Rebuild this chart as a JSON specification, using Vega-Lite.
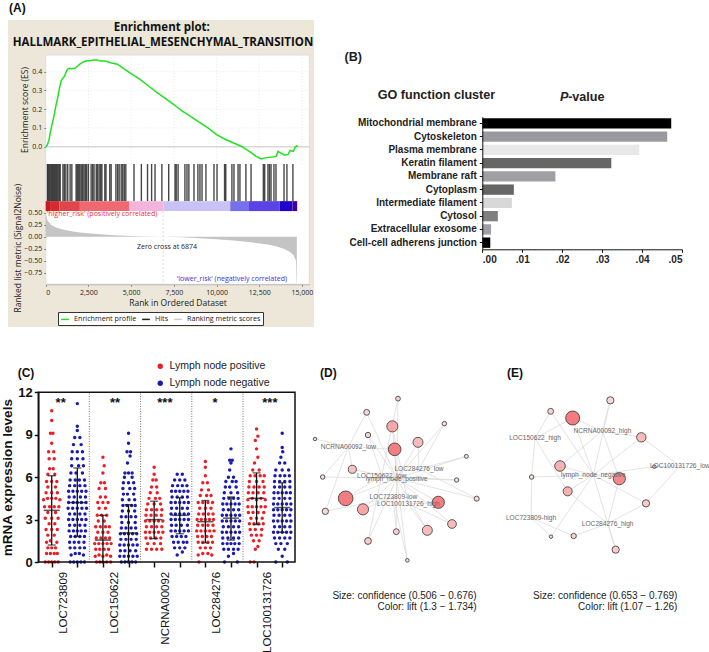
{"$schema":"https://vega.github.io/schema/vega-lite/v6.json","width":709,"height":652,"padding":0,"autosize":"none","background":"white",
"config":{"view":{"stroke":null},"axis":{"grid":false}},
"resolve":{"scale":{"x":"independent","y":"independent","color":"independent","size":"independent"},"axis":{"x":"independent","y":"independent"},"legend":{"color":"independent","size":"independent"}},
"layer":[
{"resolve":{"scale":{"color":"independent"},"legend":{"color":"independent"}},"layer":[
{"data":{"values":[{}]},"mark":{"type":"rect","fill":"#ece7d8"},"encoding":{"x":{"datum":-2206,"type":"quantitative","scale":{"domain":[0,15430],"range":[45.7,309.3],"nice":false},"axis":null},"x2":{"datum":15703},"y":{"datum":0.676,"type":"quantitative","scale":{"domain":[-0.092,0.489],"range":[164,55],"nice":false,"zero":false},"axis":{"zindex":1,"orient":"left","offset":-45.7,"values":[0,0.1,0.2,0.3,0.4],"format":".1f","title":"Enrichment score (ES)","titleFont":"Open Sans","titleFontWeight":"normal","titleFontSize":8.5,"titleColor":"#222","titlePadding":2,"labelFont":"Open Sans","labelFontSize":7,"labelColor":"#222","domain":false,"tickSize":2,"tickColor":"#888"}},"y2":{"datum":-0.961}}},
{"data":{"values":[{}]},"mark":{"type":"rect","fill":"white","stroke":"#ddd","strokeWidth":1},"encoding":{"x":{"datum":0,"type":"quantitative"},"x2":{"datum":15430},"y":{"datum":0.489,"type":"quantitative"},"y2":{"datum":-0.733}}},
{"data":{"values":[{"r":2500},{"r":5000},{"r":7500},{"r":10000},{"r":12500},{"r":15000}]},"mark":{"type":"rule","color":"#e4e4e4","strokeDash":[1,2],"strokeWidth":0.7},"encoding":{"x":{"field":"r","type":"quantitative"},"y":{"datum":0.489,"type":"quantitative"},"y2":{"datum":-0.092}}},
{"data":{"values":[{"e":0.1},{"e":0.2},{"e":0.3},{"e":0.4}]},"mark":{"type":"rule","color":"#e4e4e4","strokeDash":[1,2],"strokeWidth":0.7},"encoding":{"y":{"field":"e","type":"quantitative"},"x":{"datum":0,"type":"quantitative"},"x2":{"datum":15430}}},
{"data":{"values":[{"e":0}]},"mark":{"type":"rule","color":"#d8d8d8","strokeWidth":1.6},"encoding":{"y":{"field":"e","type":"quantitative"},"x":{"datum":0,"type":"quantitative"},"x2":{"datum":15430}}},
{"data":{"values":[{"r":100},{"r":160},{"r":230},{"r":300},{"r":360},{"r":420},{"r":480},{"r":540},{"r":600},{"r":660},{"r":720},{"r":790},{"r":850},{"r":1010},{"r":1090},{"r":1180},{"r":1290},{"r":1430},{"r":1530},{"r":1780},{"r":1850},{"r":1930},{"r":2000},{"r":2080},{"r":2160},{"r":2240},{"r":2320},{"r":2400},{"r":2500},{"r":2660},{"r":2750},{"r":2830},{"r":2960},{"r":3040},{"r":3130},{"r":3220},{"r":3290},{"r":3460},{"r":3530},{"r":3750},{"r":3830},{"r":4110},{"r":4210},{"r":4300},{"r":4420},{"r":4510},{"r":4600},{"r":4690},{"r":5170},{"r":5600},{"r":5960},{"r":6200},{"r":6400},{"r":6800},{"r":7200},{"r":7570},{"r":7640},{"r":7750},{"r":8150},{"r":8270},{"r":8380},{"r":8680},{"r":8910},{"r":9030},{"r":9150},{"r":9380},{"r":9850},{"r":10030},{"r":10470},{"r":10540},{"r":10900},{"r":11020},{"r":11260},{"r":11370},{"r":11720},{"r":12020},{"r":12740},{"r":12820},{"r":13010},{"r":13100},{"r":13190},{"r":13360},{"r":13480},{"r":13950},{"r":14120},{"r":14470}]},"mark":{"type":"rule","color":"#000","opacity":0.72,"strokeWidth":1.4},"encoding":{"x":{"field":"r","type":"quantitative"},"y":{"datum":-0.092,"type":"quantitative"},"y2":{"datum":-0.29}}},
{"data":{"values":[{"a":0,"b":300,"l":"a"},{"a":300,"b":800,"l":"b"},{"a":800,"b":2000,"l":"c"},{"a":2000,"b":4900,"l":"d"},{"a":4900,"b":6900,"l":"e"},{"a":6900,"b":10800,"l":"f"},{"a":10800,"b":11900,"l":"g"},{"a":11900,"b":13700,"l":"h"},{"a":13700,"b":14450,"l":"i"},{"a":14450,"b":14720,"l":"j"}]},"mark":{"type":"rect"},"encoding":{"x":{"field":"a","type":"quantitative"},"x2":{"field":"b"},"y":{"datum":-0.29,"type":"quantitative"},"y2":{"datum":-0.343},"color":{"field":"l","type":"nominal","legend":null,"scale":{"domain":["a","b","c","d","e","f","g","h","i","j"],"range":["#c81820","#d62a30","#e0454c","#ee6a70","#f5b4dc","#c8c2f6","#7670ea","#5a42e6","#2200cc","#40009c"]}}}},
{"data":{"values":[{"r":0,"e":0},{"r":100,"e":0.01},{"r":200,"e":0.04},{"r":300,"e":0.09},{"r":400,"e":0.13},{"r":500,"e":0.17},{"r":600,"e":0.22},{"r":700,"e":0.26},{"r":800,"e":0.31},{"r":900,"e":0.35},{"r":1000,"e":0.365},{"r":1100,"e":0.375},{"r":1200,"e":0.4},{"r":1300,"e":0.415},{"r":1400,"e":0.418},{"r":1500,"e":0.416},{"r":1700,"e":0.418},{"r":1800,"e":0.425},{"r":2000,"e":0.44},{"r":2200,"e":0.452},{"r":2400,"e":0.458},{"r":2600,"e":0.458},{"r":2800,"e":0.463},{"r":3000,"e":0.463},{"r":3200,"e":0.457},{"r":3500,"e":0.457},{"r":3800,"e":0.448},{"r":4200,"e":0.44},{"r":4500,"e":0.42},{"r":5000,"e":0.39},{"r":5500,"e":0.36},{"r":6000,"e":0.325},{"r":6500,"e":0.29},{"r":7000,"e":0.258},{"r":7500,"e":0.225},{"r":8000,"e":0.19},{"r":8500,"e":0.16},{"r":9000,"e":0.13},{"r":9500,"e":0.1},{"r":10000,"e":0.065},{"r":10500,"e":0.04},{"r":11000,"e":0.02},{"r":11500,"e":0},{"r":12000,"e":-0.03},{"r":12300,"e":-0.05},{"r":12600,"e":-0.065},{"r":12900,"e":-0.058},{"r":13300,"e":-0.055},{"r":13500,"e":-0.05},{"r":13600,"e":-0.025},{"r":13800,"e":-0.035},{"r":14000,"e":-0.045},{"r":14200,"e":-0.04},{"r":14300,"e":-0.02},{"r":14500,"e":-0.025},{"r":14600,"e":-0.003},{"r":14700,"e":0.005},{"r":14750,"e":0}]},"mark":{"type":"line","strokeWidth":1.5},"encoding":{"x":{"field":"r","type":"quantitative"},"y":{"field":"e","type":"quantitative"},"color":{"datum":"Enrichment profile","scale":{"domain":["Enrichment profile","Hits","Ranking metric scores"],"range":["#22e022","#222222","#cccccc"]},"legend":{"orient":"none","legendX":58,"legendY":312,"direction":"horizontal","columns":3,"title":null,"fillColor":"white","strokeColor":"#333","padding":2,"symbolType":"stroke","symbolSize":60,"symbolStrokeWidth":1.5,"labelFont":"Open Sans","labelFontSize":7.2,"labelColor":"#222","columnPadding":2}}}},
{"data":{"values":[{"t":"(A)","r":-2150,"e":0.74}]},"mark":{"type":"text","align":"left","font":"Liberation Sans","fontWeight":"bold","fontSize":12,"color":"#111"},"encoding":{"x":{"field":"r","type":"quantitative"},"y":{"field":"e","type":"quantitative"},"text":{"field":"t"}}},
{"data":{"values":[{"t":"Enrichment plot:","r":6800,"e":0.633},{"t":"HALLMARK_EPITHELIAL_MESENCHYMAL_TRANSITION","r":6865,"e":0.553}]},"mark":{"type":"text","font":"Open Sans","fontWeight":"bold","fontSize":11.5,"color":"#111"},"encoding":{"x":{"field":"r","type":"quantitative"},"y":{"field":"e","type":"quantitative"},"text":{"field":"t"}}}
]},
{"layer":[
{"data":{"values":[{"r":0,"m":0.5},{"r":50,"m":0.42},{"r":100,"m":0.34},{"r":300,"m":0.25},{"r":600,"m":0.19},{"r":1000,"m":0.15},{"r":1500,"m":0.115},{"r":2000,"m":0.09},{"r":3000,"m":0.055},{"r":4000,"m":0.03},{"r":5000,"m":0.015},{"r":6000,"m":0.005},{"r":6874,"m":0},{"r":8000,"m":-0.012},{"r":9000,"m":-0.03},{"r":10000,"m":-0.055},{"r":11000,"m":-0.08},{"r":12000,"m":-0.115},{"r":13000,"m":-0.16},{"r":13500,"m":-0.2},{"r":14000,"m":-0.26},{"r":14300,"m":-0.32},{"r":14500,"m":-0.38},{"r":14650,"m":-0.5},{"r":14680,"m":-0.95},{"r":14700,"m":-0.98}]},"mark":{"type":"area","color":"#c4c4c4"},"encoding":{"x":{"field":"r","type":"quantitative","scale":{"domain":[0,15430],"range":[45.7,309.3],"nice":false},"axis":{"zindex":1,"orient":"bottom","offset":-367.7,"values":[0,2500,5000,7500,10000,12500,15000],"format":",d","title":"Rank in Ordered Dataset","titleFont":"Open Sans","titleFontWeight":"normal","titleFontSize":8.5,"titleColor":"#222","titlePadding":3,"labelFont":"Open Sans","labelFontSize":7,"labelColor":"#222","tickSize":2,"tickColor":"#888","domainColor":"#bbb"}},"y":{"field":"m","type":"quantitative","scale":{"domain":[-0.99,0.535],"range":[284.3,211],"nice":false,"zero":false},"axis":{"zindex":1,"orient":"left","offset":-45.7,"values":[0.5,0.25,0,-0.25,-0.5,-0.75],"format":".2f","title":"Ranked list metric (Signal2Noise)","titleFont":"Open Sans","titleFontWeight":"normal","titleFontSize":8.5,"titleColor":"#222","titlePadding":1,"labelFont":"Open Sans","labelFontSize":7,"labelColor":"#222","domain":false,"tickSize":2,"tickColor":"#888"}},"y2":{"datum":0}}},
{"data":{"values":[{"r":6874}]},"mark":{"type":"rule","color":"#cfcfcf","strokeDash":[2,2],"strokeWidth":0.8},"encoding":{"x":{"field":"r","type":"quantitative"},"y":{"datum":0.53,"type":"quantitative"},"y2":{"datum":-0.98}}},
{"data":{"values":[{"t":"Zero cross at 6874","r":7100,"m":-0.22,"c":"k"},{"t":"'higher_risk' (positively correlated)","r":3300,"m":0.47,"c":"r"},{"t":"'lower_risk' (negatively correlated)","r":10900,"m":-0.88,"c":"b"}]},"mark":{"type":"text","font":"Open Sans","fontSize":7},"encoding":{"x":{"field":"r","type":"quantitative"},"y":{"field":"m","type":"quantitative"},"text":{"field":"t"},"color":{"field":"c","type":"nominal","legend":null,"scale":{"domain":["k","r","b"],"range":["#222222","#e8303a","#3a30d8"]}}}}
]},
{"data":{"values":[{"g":"Mitochondrial membrane","p":0.0473},{"g":"Cytoskeleton","p":0.0463},{"g":"Plasma membrane","p":0.0393},{"g":"Keratin filament","p":0.0323},{"g":"Membrane raft","p":0.0183},{"g":"Cytoplasm","p":0.0079},{"g":"Intermediate filament","p":0.0074},{"g":"Cytosol","p":0.0039},{"g":"Extracellular exosome","p":0.0022},{"g":"Cell-cell adherens junction","p":0.002}]},"mark":{"type":"bar"},"encoding":{"x":{"field":"p","type":"quantitative","scale":{"domain":[0,0.05],"range":[482.3,682],"nice":false},"axis":{"zindex":1,"orient":"bottom","offset":-402.7,"values":[0,0.01,0.02,0.03,0.04,0.05],"labelExpr":"slice(format(datum.value,'.2f'),1)","title":null,"labelFont":"Liberation Sans","labelFontWeight":"bold","labelFontSize":10,"labelColor":"#222","domainColor":"#111","tickColor":"#111","tickSize":3}},"y":{"field":"g","type":"nominal","sort":null,"scale":{"domain":["Mitochondrial membrane","Cytoskeleton","Plasma membrane","Keratin filament","Membrane raft","Cytoplasm","Intermediate filament","Cytosol","Extracellular exosome","Cell-cell adherens junction"],"range":[116.7,249.3],"paddingInner":0.22,"paddingOuter":0.11},"axis":{"zindex":1,"orient":"left","offset":-482.3,"title":null,"labelFont":"Liberation Sans","labelFontWeight":"bold","labelFontSize":10,"labelColor":"#222","domainColor":"#111","tickColor":"#111","tickSize":3,"labelPadding":3}},"color":{"field":"g","type":"nominal","legend":null,"scale":{"domain":["Mitochondrial membrane","Cytoskeleton","Plasma membrane","Keratin filament","Membrane raft","Cytoplasm","Intermediate filament","Cytosol","Extracellular exosome","Cell-cell adherens junction"],"range":["#000000","#9a9a9e","#e8e8e8","#666666","#a0a0a4","#666666","#d8d8d8","#808080","#a0a0a4","#000000"]}}}},
{"layer":[
{"data":{"values":[{"t":"(B)","p":-0.0345,"k":-4.5},{"t":"GO function cluster","p":-0.0262,"k":-1.66},{"t":"-value","p":0.0215,"k":-1.46}]},"mark":{"type":"text","align":"left","font":"Liberation Sans","fontWeight":"bold","fontSize":12.6,"color":"#222"},"encoding":{"x":{"field":"p","type":"quantitative","scale":{"domain":[0,0.05],"range":[482.3,682],"nice":false},"axis":null},"y":{"field":"k","type":"quantitative","scale":{"domain":[0,10],"range":[116.7,249.3],"nice":false,"zero":false},"axis":null},"text":{"field":"t"}}},
{"data":{"values":[{"t":"P","p":0.01945,"k":-1.46}]},"mark":{"type":"text","align":"left","font":"Liberation Sans","fontWeight":"bold","fontStyle":"italic","fontSize":12.6,"color":"#222"},"encoding":{"x":{"field":"p","type":"quantitative"},"y":{"field":"k","type":"quantitative"},"text":{"field":"t"}}}
]},
{"layer":[
{"data":{"values":[{"x":2.47},{"x":4.47},{"x":6.47},{"x":8.47}]},"mark":{"type":"rule","color":"#555","strokeDash":[1,1.5],"strokeWidth":0.8},"encoding":{"x":{"field":"x","type":"quantitative","scale":{"domain":[0.477,10.5],"range":[38.3,295],"nice":false,"zero":false},"axis":{"zindex":1,"orient":"bottom","offset":-90,"values":[1,2,3,4,5,6,7,8,9,10],"labels":false,"title":null,"tickColor":"#111","tickWidth":1.5,"tickSize":5,"domain":false}},"y":{"datum":0,"type":"quantitative","scale":{"domain":[0,12],"range":[562,392.3],"nice":false},"axis":{"zindex":1,"orient":"left","offset":-38.3,"values":[0,3,6,9,12],"format":"d","title":"mRNA expression levels","titleFont":"Liberation Sans","titleFontWeight":"bold","titleFontSize":13.5,"titleColor":"#111","titlePadding":3,"labelFont":"Liberation Sans","labelFontWeight":"bold","labelFontSize":13,"labelColor":"#111","tickColor":"#111","tickWidth":1.5,"tickSize":4,"domainColor":"#111","domainWidth":1.5}},"y2":{"datum":12}}},
{"data":{"values":[
{"x":0.75,"v":0},{"x":0.88,"v":0},{"x":1,"v":0},{"x":1.12,"v":0},{"x":1.25,"v":0},{"x":0.8,"v":0.6},{"x":0.95,"v":0.6},{"x":1.1,"v":0.6},{"x":1.22,"v":0.6},{"x":0.85,"v":1},{"x":1,"v":1},{"x":1.15,"v":1},{"x":0.8,"v":1.4},{"x":0.95,"v":1.5},{"x":1.2,"v":1.4},{"x":0.85,"v":1.9},{"x":1.1,"v":1.9},{"x":0.78,"v":2.3},{"x":1,"v":2.3},{"x":1.22,"v":2.3},{"x":0.9,"v":2.7},{"x":1.12,"v":2.7},{"x":0.75,"v":3.1},{"x":1,"v":3.1},{"x":1.25,"v":3.1},{"x":0.85,"v":3.5},{"x":1.15,"v":3.5},{"x":0.72,"v":3.9},{"x":0.92,"v":3.9},{"x":1.1,"v":3.9},{"x":1.28,"v":3.9},{"x":0.68,"v":4.4},{"x":0.84,"v":4.5},{"x":1,"v":4.5},{"x":1.16,"v":4.5},{"x":1.32,"v":4.4},{"x":0.78,"v":4.9},{"x":1,"v":4.9},{"x":1.22,"v":4.9},{"x":0.85,"v":5.3},{"x":1.15,"v":5.3},{"x":0.8,"v":5.7},{"x":1,"v":5.7},{"x":1.2,"v":5.7},{"x":0.85,"v":6.2},{"x":1.12,"v":6.2},{"x":0.92,"v":6.6},{"x":1.06,"v":6.6},{"x":0.9,"v":7.3},{"x":1.1,"v":7.3},{"x":0.88,"v":7.8},{"x":1.08,"v":7.8},{"x":1,"v":8.4},{"x":0.95,"v":9.1},{"x":1.05,"v":9.1},{"x":1,"v":10},{"x":1,"v":10.7},
{"x":2.75,"v":0},{"x":2.88,"v":0},{"x":3,"v":0},{"x":3.15,"v":0},{"x":3.3,"v":0},{"x":2.7,"v":0.4},{"x":2.85,"v":0.5},{"x":3,"v":0.4},{"x":3.15,"v":0.5},{"x":3.3,"v":0.4},{"x":2.72,"v":0.9},{"x":2.88,"v":0.9},{"x":3.05,"v":0.9},{"x":3.22,"v":0.9},{"x":2.68,"v":1.3},{"x":2.84,"v":1.3},{"x":3,"v":1.3},{"x":3.16,"v":1.3},{"x":3.32,"v":1.3},{"x":2.74,"v":1.7},{"x":2.92,"v":1.7},{"x":3.1,"v":1.7},{"x":3.26,"v":1.7},{"x":2.8,"v":2.1},{"x":3,"v":2.1},{"x":3.2,"v":2.1},{"x":2.72,"v":2.5},{"x":2.9,"v":2.5},{"x":3.1,"v":2.5},{"x":3.25,"v":2.5},{"x":2.82,"v":2.9},{"x":3.05,"v":2.9},{"x":2.78,"v":3.3},{"x":2.95,"v":3.3},{"x":3.15,"v":3.3},{"x":2.85,"v":3.8},{"x":3.1,"v":3.8},{"x":2.8,"v":4.2},{"x":3,"v":4.2},{"x":3.2,"v":4.2},{"x":2.9,"v":4.6},{"x":3.1,"v":4.6},{"x":2.85,"v":5.2},{"x":3.1,"v":5.2},{"x":2.92,"v":5.6},{"x":3.06,"v":5.6},{"x":3,"v":6.3},{"x":3.05,"v":6.8},{"x":3,"v":7.4},
{"x":4.7,"v":0.9},{"x":4.9,"v":0.9},{"x":5.1,"v":0.9},{"x":5.3,"v":0.9},{"x":4.75,"v":1.3},{"x":5,"v":1.3},{"x":5.25,"v":1.3},{"x":4.68,"v":1.7},{"x":4.86,"v":1.7},{"x":5.06,"v":1.7},{"x":5.26,"v":1.7},{"x":4.66,"v":2.1},{"x":4.83,"v":2.1},{"x":5,"v":2.1},{"x":5.17,"v":2.1},{"x":5.34,"v":2.1},{"x":4.7,"v":2.5},{"x":4.9,"v":2.5},{"x":5.1,"v":2.5},{"x":5.3,"v":2.5},{"x":4.66,"v":2.9},{"x":4.83,"v":2.9},{"x":5,"v":2.9},{"x":5.17,"v":2.9},{"x":5.34,"v":2.9},{"x":4.68,"v":3.3},{"x":4.88,"v":3.3},{"x":5.08,"v":3.3},{"x":5.28,"v":3.3},{"x":4.7,"v":3.7},{"x":4.9,"v":3.7},{"x":5.1,"v":3.7},{"x":5.3,"v":3.7},{"x":4.75,"v":4.1},{"x":5,"v":4.1},{"x":5.25,"v":4.1},{"x":4.8,"v":4.5},{"x":5.05,"v":4.5},{"x":5.22,"v":4.5},{"x":4.85,"v":4.9},{"x":5.12,"v":4.9},{"x":4.9,"v":5.3},{"x":5.1,"v":5.3},{"x":4.95,"v":5.8},{"x":5.08,"v":5.8},{"x":5,"v":6.2},{"x":5,"v":6.7},
{"x":6.75,"v":0},{"x":6.72,"v":0.5},{"x":6.9,"v":0.6},{"x":7.1,"v":0.6},{"x":7.25,"v":0.5},{"x":6.8,"v":1},{"x":7,"v":1},{"x":7.2,"v":1},{"x":6.72,"v":1.4},{"x":6.9,"v":1.4},{"x":7.1,"v":1.4},{"x":7.28,"v":1.4},{"x":6.7,"v":1.8},{"x":6.88,"v":1.8},{"x":7.06,"v":1.8},{"x":7.24,"v":1.8},{"x":6.66,"v":2.2},{"x":6.83,"v":2.2},{"x":7,"v":2.2},{"x":7.17,"v":2.2},{"x":7.34,"v":2.2},{"x":6.7,"v":2.6},{"x":6.9,"v":2.6},{"x":7.1,"v":2.6},{"x":7.3,"v":2.6},{"x":6.68,"v":3},{"x":6.84,"v":3},{"x":7,"v":3},{"x":7.16,"v":3},{"x":7.32,"v":3},{"x":6.74,"v":3.4},{"x":6.92,"v":3.4},{"x":7.12,"v":3.4},{"x":7.3,"v":3.4},{"x":6.78,"v":3.8},{"x":7,"v":3.8},{"x":7.22,"v":3.8},{"x":6.72,"v":4.2},{"x":6.9,"v":4.2},{"x":7.1,"v":4.2},{"x":7.28,"v":4.2},{"x":6.8,"v":4.7},{"x":7.05,"v":4.7},{"x":7.22,"v":4.7},{"x":6.85,"v":5.1},{"x":7.12,"v":5.1},{"x":6.9,"v":5.6},{"x":7.08,"v":5.6},{"x":7,"v":6.1},{"x":7,"v":6.7},{"x":7,"v":7.1},
{"x":8.75,"v":0},{"x":8.9,"v":0},{"x":8.95,"v":0.9},{"x":9.05,"v":1.1},{"x":8.88,"v":1.5},{"x":9.1,"v":1.5},{"x":8.8,"v":1.9},{"x":9,"v":1.9},{"x":9.18,"v":1.9},{"x":8.75,"v":2.3},{"x":8.95,"v":2.3},{"x":9.2,"v":2.3},{"x":8.72,"v":2.7},{"x":8.9,"v":2.7},{"x":9.08,"v":2.7},{"x":9.26,"v":2.7},{"x":8.78,"v":3.1},{"x":9,"v":3.1},{"x":9.22,"v":3.1},{"x":8.68,"v":3.5},{"x":8.86,"v":3.5},{"x":9.06,"v":3.5},{"x":9.28,"v":3.5},{"x":8.66,"v":3.9},{"x":8.83,"v":3.9},{"x":9,"v":3.9},{"x":9.17,"v":3.9},{"x":9.34,"v":3.9},{"x":8.66,"v":4.4},{"x":8.83,"v":4.5},{"x":9,"v":4.4},{"x":9.17,"v":4.5},{"x":9.34,"v":4.4},{"x":8.68,"v":4.9},{"x":8.86,"v":4.9},{"x":9.06,"v":4.9},{"x":9.28,"v":4.9},{"x":8.7,"v":5.3},{"x":8.9,"v":5.3},{"x":9.1,"v":5.3},{"x":9.3,"v":5.3},{"x":8.72,"v":5.7},{"x":9,"v":5.7},{"x":9.25,"v":5.7},{"x":8.75,"v":6.1},{"x":8.94,"v":6.1},{"x":9.14,"v":6.1},{"x":9.3,"v":6.1},{"x":8.85,"v":6.5},{"x":9.1,"v":6.5},{"x":8.92,"v":7},{"x":9.05,"v":7.4},{"x":9,"v":8},{"x":8.95,"v":8.6},{"x":9.05,"v":8.9},{"x":9,"v":9.4}
]},"mark":{"type":"circle","size":12,"opacity":1},"encoding":{"x":{"field":"x","type":"quantitative"},"y":{"field":"v","type":"quantitative"},"color":{"datum":"Lymph node positive","scale":{"domain":["Lymph node positive","Lymph node negative"],"range":["#ee1c25","#1a1ab0"]},"legend":{"orient":"none","legendX":155,"legendY":361,"title":null,"labelFont":"Liberation Sans","labelFontSize":10.5,"labelColor":"#222","symbolSize":28,"symbolType":"circle","rowPadding":6}}}},
{"data":{"values":[
{"x":1.72,"v":0},{"x":1.86,"v":0},{"x":2,"v":0},{"x":2.14,"v":0},{"x":2.28,"v":0},{"x":1.76,"v":0.5},{"x":1.92,"v":0.6},{"x":2.08,"v":0.6},{"x":2.24,"v":0.5},{"x":1.72,"v":1},{"x":1.9,"v":1},{"x":2.1,"v":1},{"x":2.28,"v":1},{"x":1.7,"v":1.4},{"x":1.88,"v":1.4},{"x":2.06,"v":1.4},{"x":2.26,"v":1.4},{"x":1.74,"v":1.8},{"x":1.92,"v":1.8},{"x":2.1,"v":1.8},{"x":2.28,"v":1.8},{"x":1.68,"v":2.2},{"x":1.85,"v":2.2},{"x":2,"v":2.2},{"x":2.15,"v":2.2},{"x":2.32,"v":2.2},{"x":1.7,"v":2.6},{"x":1.9,"v":2.6},{"x":2.1,"v":2.6},{"x":2.3,"v":2.6},{"x":1.66,"v":3},{"x":1.83,"v":3},{"x":2,"v":3},{"x":2.17,"v":3},{"x":2.34,"v":3},{"x":1.7,"v":3.4},{"x":1.9,"v":3.4},{"x":2.1,"v":3.4},{"x":2.3,"v":3.4},{"x":1.64,"v":3.8},{"x":1.82,"v":3.8},{"x":2,"v":3.8},{"x":2.18,"v":3.8},{"x":2.36,"v":3.8},{"x":1.66,"v":4.2},{"x":1.84,"v":4.2},{"x":2,"v":4.2},{"x":2.16,"v":4.2},{"x":2.34,"v":4.2},{"x":1.68,"v":4.6},{"x":1.88,"v":4.6},{"x":2.12,"v":4.6},{"x":2.32,"v":4.6},{"x":1.66,"v":5},{"x":1.83,"v":5},{"x":2,"v":5},{"x":2.17,"v":5},{"x":2.34,"v":5},{"x":1.7,"v":5.4},{"x":1.9,"v":5.4},{"x":2.1,"v":5.4},{"x":2.3,"v":5.4},{"x":1.72,"v":5.8},{"x":1.92,"v":5.8},{"x":2.08,"v":5.8},{"x":2.28,"v":5.8},{"x":1.75,"v":6.3},{"x":1.95,"v":6.3},{"x":2.2,"v":6.3},{"x":1.78,"v":6.8},{"x":2.05,"v":6.8},{"x":2.24,"v":6.8},{"x":1.78,"v":7.3},{"x":2,"v":7.3},{"x":2.22,"v":7.3},{"x":1.8,"v":7.8},{"x":2,"v":7.8},{"x":2.2,"v":7.8},{"x":1.85,"v":8.3},{"x":2.15,"v":8.3},{"x":1.9,"v":8.8},{"x":2.1,"v":8.8},{"x":2,"v":9.3},{"x":2,"v":9.6},{"x":2,"v":11.2},
{"x":3.72,"v":0},{"x":3.86,"v":0},{"x":4,"v":0},{"x":4.14,"v":0},{"x":4.28,"v":0},{"x":3.66,"v":0.4},{"x":3.83,"v":0.4},{"x":4,"v":0.4},{"x":4.17,"v":0.4},{"x":4.34,"v":0.4},{"x":3.68,"v":0.8},{"x":3.86,"v":0.8},{"x":4.06,"v":0.8},{"x":4.28,"v":0.8},{"x":3.66,"v":1.2},{"x":3.83,"v":1.2},{"x":4,"v":1.2},{"x":4.17,"v":1.2},{"x":4.34,"v":1.2},{"x":3.7,"v":1.6},{"x":3.9,"v":1.6},{"x":4.1,"v":1.6},{"x":4.3,"v":1.6},{"x":3.68,"v":2},{"x":3.84,"v":2},{"x":4,"v":2},{"x":4.16,"v":2},{"x":4.32,"v":2},{"x":3.72,"v":2.4},{"x":3.9,"v":2.4},{"x":4.1,"v":2.4},{"x":4.28,"v":2.4},{"x":3.74,"v":2.8},{"x":4,"v":2.8},{"x":4.26,"v":2.8},{"x":3.72,"v":3.2},{"x":3.9,"v":3.2},{"x":4.1,"v":3.2},{"x":4.28,"v":3.2},{"x":3.76,"v":3.6},{"x":4,"v":3.6},{"x":4.24,"v":3.6},{"x":3.78,"v":4},{"x":3.94,"v":4},{"x":4.12,"v":4},{"x":4.26,"v":4},{"x":3.76,"v":4.4},{"x":4.02,"v":4.4},{"x":4.24,"v":4.4},{"x":3.8,"v":4.8},{"x":3.96,"v":4.8},{"x":4.2,"v":4.8},{"x":3.78,"v":5.2},{"x":4.05,"v":5.2},{"x":4.24,"v":5.2},{"x":3.8,"v":5.6},{"x":4,"v":5.6},{"x":4.2,"v":5.6},{"x":3.84,"v":6},{"x":4.14,"v":6},{"x":3.86,"v":6.3},{"x":4,"v":6.3},{"x":4.14,"v":6.3},{"x":3.96,"v":7},{"x":4.06,"v":7.5},{"x":3.94,"v":7.8},{"x":4.08,"v":7.8},{"x":4,"v":8.4},{"x":4,"v":9.1},
{"x":5.9,"v":0.5},{"x":6.1,"v":0.7},{"x":5.8,"v":1},{"x":6,"v":1},{"x":6.2,"v":1},{"x":5.76,"v":1.4},{"x":5.94,"v":1.4},{"x":6.14,"v":1.4},{"x":6.28,"v":1.4},{"x":5.7,"v":1.8},{"x":5.88,"v":1.8},{"x":6.06,"v":1.8},{"x":6.24,"v":1.8},{"x":5.66,"v":2.2},{"x":5.83,"v":2.2},{"x":6,"v":2.2},{"x":6.17,"v":2.2},{"x":6.34,"v":2.2},{"x":5.68,"v":2.6},{"x":5.86,"v":2.6},{"x":6.06,"v":2.6},{"x":6.3,"v":2.6},{"x":5.66,"v":3},{"x":5.83,"v":3},{"x":6,"v":3},{"x":6.17,"v":3},{"x":6.34,"v":3},{"x":5.66,"v":3.4},{"x":5.83,"v":3.4},{"x":6,"v":3.4},{"x":6.17,"v":3.4},{"x":6.34,"v":3.4},{"x":5.68,"v":3.8},{"x":5.88,"v":3.8},{"x":6.1,"v":3.8},{"x":6.3,"v":3.8},{"x":5.66,"v":4.2},{"x":5.83,"v":4.2},{"x":6,"v":4.2},{"x":6.17,"v":4.2},{"x":6.34,"v":4.2},{"x":5.7,"v":4.6},{"x":5.9,"v":4.6},{"x":6.1,"v":4.6},{"x":6.3,"v":4.6},{"x":5.68,"v":5},{"x":5.84,"v":5},{"x":6,"v":5},{"x":6.16,"v":5},{"x":6.32,"v":5},{"x":5.72,"v":5.4},{"x":5.92,"v":5.4},{"x":6.1,"v":5.4},{"x":6.28,"v":5.4},{"x":5.8,"v":5.8},{"x":6,"v":5.8},{"x":6.2,"v":5.8},{"x":5.9,"v":6.2},{"x":6.1,"v":6.2},
{"x":7.9,"v":0.4},{"x":8.1,"v":0.6},{"x":7.75,"v":0},{"x":8.25,"v":0},{"x":7.72,"v":0.9},{"x":7.9,"v":0.9},{"x":8.1,"v":0.9},{"x":8.28,"v":0.9},{"x":7.68,"v":1.3},{"x":7.85,"v":1.3},{"x":8,"v":1.3},{"x":8.15,"v":1.3},{"x":8.32,"v":1.3},{"x":7.68,"v":1.7},{"x":7.88,"v":1.7},{"x":8.1,"v":1.7},{"x":8.3,"v":1.7},{"x":7.66,"v":2.1},{"x":7.83,"v":2.1},{"x":8,"v":2.1},{"x":8.17,"v":2.1},{"x":8.34,"v":2.1},{"x":7.7,"v":2.5},{"x":7.9,"v":2.5},{"x":8.1,"v":2.5},{"x":8.3,"v":2.5},{"x":7.66,"v":2.9},{"x":7.83,"v":2.9},{"x":8,"v":2.9},{"x":8.17,"v":2.9},{"x":8.34,"v":2.9},{"x":7.66,"v":3.3},{"x":7.83,"v":3.3},{"x":8,"v":3.3},{"x":8.17,"v":3.3},{"x":8.34,"v":3.3},{"x":7.7,"v":3.7},{"x":7.9,"v":3.7},{"x":8.1,"v":3.7},{"x":8.3,"v":3.7},{"x":7.68,"v":4.1},{"x":7.84,"v":4.1},{"x":8,"v":4.1},{"x":8.16,"v":4.1},{"x":8.32,"v":4.1},{"x":7.72,"v":4.5},{"x":7.92,"v":4.5},{"x":8.1,"v":4.5},{"x":8.28,"v":4.5},{"x":7.74,"v":4.9},{"x":8,"v":4.9},{"x":8.26,"v":4.9},{"x":7.78,"v":5.3},{"x":7.95,"v":5.3},{"x":8.2,"v":5.3},{"x":7.8,"v":5.7},{"x":8.05,"v":5.7},{"x":8.2,"v":5.7},{"x":7.9,"v":6},{"x":8.1,"v":6},{"x":7.95,"v":6.5},{"x":8,"v":7},{"x":7.95,"v":7.2},{"x":8.05,"v":7.2},{"x":8,"v":8},
{"x":9.75,"v":0},{"x":10.2,"v":0},{"x":10,"v":0.4},{"x":9.85,"v":0.9},{"x":10.1,"v":0.9},{"x":9.75,"v":1.3},{"x":9.95,"v":1.3},{"x":10.2,"v":1.3},{"x":9.7,"v":1.7},{"x":9.9,"v":1.7},{"x":10.1,"v":1.7},{"x":10.3,"v":1.7},{"x":9.66,"v":2.1},{"x":9.83,"v":2.1},{"x":10,"v":2.1},{"x":10.17,"v":2.1},{"x":10.34,"v":2.1},{"x":9.7,"v":2.5},{"x":9.9,"v":2.5},{"x":10.1,"v":2.5},{"x":10.3,"v":2.5},{"x":9.66,"v":2.9},{"x":9.83,"v":2.9},{"x":10,"v":2.9},{"x":10.17,"v":2.9},{"x":10.34,"v":2.9},{"x":9.68,"v":3.3},{"x":9.88,"v":3.3},{"x":10.1,"v":3.3},{"x":10.3,"v":3.3},{"x":9.66,"v":3.7},{"x":9.83,"v":3.7},{"x":10,"v":3.7},{"x":10.17,"v":3.7},{"x":10.34,"v":3.7},{"x":9.66,"v":4.1},{"x":9.83,"v":4.1},{"x":10,"v":4.1},{"x":10.17,"v":4.1},{"x":10.34,"v":4.1},{"x":9.68,"v":4.5},{"x":9.88,"v":4.5},{"x":10.1,"v":4.5},{"x":10.3,"v":4.5},{"x":9.68,"v":4.9},{"x":9.84,"v":4.9},{"x":10,"v":4.9},{"x":10.16,"v":4.9},{"x":10.32,"v":4.9},{"x":9.7,"v":5.3},{"x":9.9,"v":5.3},{"x":10.1,"v":5.3},{"x":10.3,"v":5.3},{"x":9.7,"v":5.7},{"x":9.9,"v":5.7},{"x":10.1,"v":5.7},{"x":10.3,"v":5.7},{"x":9.72,"v":6.1},{"x":9.92,"v":6.1},{"x":10.1,"v":6.1},{"x":10.28,"v":6.1},{"x":9.75,"v":6.5},{"x":10,"v":6.5},{"x":10.25,"v":6.5},{"x":9.9,"v":7},{"x":10.1,"v":7},{"x":9.95,"v":7.4},{"x":10.02,"v":7.8},{"x":10,"v":8.1},{"x":10,"v":9.1}
]},"mark":{"type":"circle","size":12,"opacity":1},"encoding":{"x":{"field":"x","type":"quantitative"},"y":{"field":"v","type":"quantitative"},"color":{"datum":"Lymph node negative"}}},
{"data":{"name":"stats","values":[{"x":1,"m":3.65,"h":6.1,"l":1.2},{"x":2,"m":4.2,"h":6.65,"l":1.8},{"x":3,"m":1.55,"h":3.3,"l":0},{"x":4,"m":2.05,"h":4.05,"l":0.05},{"x":5,"m":3,"h":4.3,"l":1.65},{"x":6,"m":3.3,"h":4.55,"l":2},{"x":7,"m":2.85,"h":4.35,"l":1.35},{"x":8,"m":3.1,"h":4.6,"l":1.55},{"x":9,"m":4.5,"h":6.3,"l":2.65},{"x":10,"m":3.85,"h":5.6,"l":2.1}]},"mark":{"type":"rule","color":"#111","strokeWidth":1.3},"encoding":{"x":{"field":"x","type":"quantitative"},"y":{"field":"l","type":"quantitative"},"y2":{"field":"h"}}},
{"data":{"name":"stats"},"mark":{"type":"tick","orient":"horizontal","color":"#111","size":16,"thickness":1.5},"encoding":{"x":{"field":"x","type":"quantitative"},"y":{"field":"m","type":"quantitative"}}},
{"data":{"name":"stats"},"mark":{"type":"tick","orient":"horizontal","color":"#111","size":8,"thickness":1.3},"encoding":{"x":{"field":"x","type":"quantitative"},"y":{"field":"h","type":"quantitative"}}},
{"data":{"name":"stats"},"mark":{"type":"tick","orient":"horizontal","color":"#111","size":8,"thickness":1.3},"encoding":{"x":{"field":"x","type":"quantitative"},"y":{"field":"l","type":"quantitative"}}},
{"data":{"values":[{}]},"mark":{"type":"rect","fill":"transparent","stroke":"#111","strokeWidth":1.5},"encoding":{"x":{"datum":0.477,"type":"quantitative"},"x2":{"datum":10.5},"y":{"datum":0,"type":"quantitative"},"y2":{"datum":12}}},
{"data":{"values":[{"t":"**","x":1.35,"v":11.25},{"t":"**","x":3.47,"v":11.25},{"t":"***","x":5.42,"v":11.25},{"t":"*","x":7.38,"v":11.25},{"t":"***","x":9.52,"v":11.25}]},"mark":{"type":"text","font":"Liberation Sans","fontWeight":"bold","fontSize":13,"color":"#111"},"encoding":{"x":{"field":"x","type":"quantitative"},"y":{"field":"v","type":"quantitative"},"text":{"field":"t"}}},
{"data":{"values":[{"t":"LOC723809","x":1.47,"v":-0.69},{"t":"LOC150622","x":3.47,"v":-0.69},{"t":"NCRNA00092","x":5.45,"v":-0.69},{"t":"LOC284276","x":7.47,"v":-0.69},{"t":"LOC100131726","x":9.43,"v":-0.69}]},"mark":{"type":"text","angle":270,"align":"right","baseline":"middle","font":"Liberation Sans","fontSize":11.5,"color":"#111"},"encoding":{"x":{"field":"x","type":"quantitative"},"y":{"field":"v","type":"quantitative"},"text":{"field":"t"}}},
{"data":{"values":[{"t":"(C)","x":-0.33,"v":13.4}]},"mark":{"type":"text","align":"left","font":"Liberation Sans","fontWeight":"bold","fontSize":12,"color":"#111"},"encoding":{"x":{"field":"x","type":"quantitative"},"y":{"field":"v","type":"quantitative"},"text":{"field":"t"}}}
]},
{"layer":[
{"data":{"values":[{"x":290,"y":385,"a":294,"b":146},{"x":290,"y":385,"a":200,"b":187},{"x":290,"y":385,"a":433,"b":221},{"x":290,"y":385,"a":277,"b":229},{"x":290,"y":385,"a":204,"b":255},{"x":290,"y":385,"a":354,"b":277},{"x":290,"y":385,"a":284,"b":298},{"x":290,"y":385,"a":499,"b":319},{"x":290,"y":385,"a":157,"b":358},{"x":290,"y":385,"a":68,"b":381},{"x":290,"y":385,"a":470,"b":390},{"x":290,"y":385,"a":137,"b":445},{"x":290,"y":385,"a":415,"b":457},{"x":290,"y":385,"a":530,"b":446},{"x":290,"y":385,"a":189,"b":478},{"x":290,"y":385,"a":456,"b":522},{"x":290,"y":385,"a":382,"b":541},{"x":290,"y":385,"a":289,"b":545},{"x":290,"y":385,"a":204,"b":573},{"x":290,"y":385,"a":322,"b":631},{"x":145,"y":290,"a":200,"b":187},{"x":145,"y":290,"a":45,"b":267},{"x":145,"y":290,"a":68,"b":381},{"x":145,"y":290,"a":76,"b":484},{"x":145,"y":290,"a":157,"b":358},{"x":145,"y":290,"a":284,"b":298},{"x":245,"y":377,"a":294,"b":146},{"x":245,"y":377,"a":204,"b":255},{"x":245,"y":377,"a":137,"b":445},{"x":245,"y":377,"a":204,"b":573},{"x":245,"y":377,"a":470,"b":390},{"x":357,"y":357,"a":433,"b":221},{"x":357,"y":357,"a":354,"b":277},{"x":357,"y":357,"a":499,"b":319},{"x":357,"y":357,"a":530,"b":446},{"x":280,"y":442,"a":76,"b":484},{"x":280,"y":442,"a":289,"b":545},{"x":280,"y":442,"a":322,"b":631},{"x":280,"y":442,"a":189,"b":478},{"x":325,"y":462,"a":456,"b":522},{"x":325,"y":462,"a":382,"b":541},{"x":325,"y":462,"a":415,"b":457},{"x":325,"y":462,"a":277,"b":229},{"x":880,"y":375,"a":931,"b":151},{"x":880,"y":375,"a":752,"b":184},{"x":880,"y":375,"a":818,"b":204},{"x":880,"y":375,"a":1024,"b":262},{"x":880,"y":375,"a":780,"b":348},{"x":880,"y":375,"a":695,"b":381},{"x":880,"y":375,"a":1063,"b":350},{"x":880,"y":375,"a":958,"b":386},{"x":880,"y":375,"a":803,"b":424},{"x":880,"y":375,"a":1038,"b":460},{"x":880,"y":375,"a":753,"b":560},{"x":880,"y":375,"a":947,"b":599},{"x":705,"y":265,"a":752,"b":184},{"x":705,"y":265,"a":818,"b":204},{"x":705,"y":265,"a":695,"b":381},{"x":705,"y":265,"a":803,"b":424},{"x":907,"y":243,"a":931,"b":151},{"x":907,"y":243,"a":818,"b":204},{"x":907,"y":243,"a":1024,"b":262},{"x":907,"y":243,"a":958,"b":386},{"x":907,"y":243,"a":780,"b":348},{"x":1140,"y":348,"a":1024,"b":262},{"x":1140,"y":348,"a":1063,"b":350},{"x":1140,"y":348,"a":1038,"b":460},{"x":693,"y":503,"a":695,"b":381},{"x":693,"y":503,"a":753,"b":560},{"x":693,"y":503,"a":821,"b":558},{"x":923,"y":521,"a":821,"b":558},{"x":923,"y":521,"a":803,"b":424},{"x":923,"y":521,"a":958,"b":386},{"x":923,"y":521,"a":947,"b":599},{"x":923,"y":521,"a":1038,"b":460}]},"mark":{"type":"rule","color":"#dcdcdc","strokeWidth":0.8},"encoding":{"x":{"field":"x","type":"quantitative","scale":{"domain":[0,1227],"range":[300,709],"nice":false},"axis":null},"y":{"field":"y","type":"quantitative","scale":{"domain":[0,840],"range":[350,630],"nice":false},"axis":null},"x2":{"field":"a"},"y2":{"field":"b"}}},
{"data":{"values":[{"x":294,"y":146,"c":0.515,"l":1.33},{"x":200,"y":187,"c":0.525,"l":1.33},{"x":433,"y":221,"c":0.513,"l":1.32},{"x":277,"y":229,"c":0.6,"l":1.55},{"x":204,"y":255,"c":0.52,"l":1.33},{"x":45,"y":267,"c":0.506,"l":1.3},{"x":354,"y":277,"c":0.58,"l":1.45},{"x":284,"y":298,"c":0.63,"l":1.72},{"x":499,"y":319,"c":0.509,"l":1.3},{"x":157,"y":358,"c":0.55,"l":1.42},{"x":68,"y":381,"c":0.513,"l":1.3},{"x":470,"y":390,"c":0.512,"l":1.3},{"x":137,"y":445,"c":0.676,"l":1.734},{"x":415,"y":457,"c":0.62,"l":1.72},{"x":530,"y":446,"c":0.518,"l":1.33},{"x":189,"y":478,"c":0.6,"l":1.55},{"x":76,"y":484,"c":0.53,"l":1.33},{"x":456,"y":522,"c":0.56,"l":1.45},{"x":382,"y":541,"c":0.58,"l":1.45},{"x":289,"y":545,"c":0.525,"l":1.35},{"x":204,"y":573,"c":0.535,"l":1.38},{"x":322,"y":631,"c":0.507,"l":1.3},{"x":931,"y":151,"c":0.54,"l":1.33},{"x":752,"y":184,"c":0.525,"l":1.33},{"x":818,"y":204,"c":0.66,"l":1.734},{"x":1024,"y":262,"c":0.57,"l":1.45},{"x":780,"y":348,"c":0.59,"l":1.5},{"x":695,"y":381,"c":0.513,"l":1.3},{"x":1063,"y":350,"c":0.507,"l":1.3},{"x":958,"y":386,"c":0.62,"l":1.68},{"x":803,"y":424,"c":0.565,"l":1.5},{"x":1038,"y":460,"c":0.54,"l":1.38},{"x":821,"y":558,"c":0.52,"l":1.33},{"x":753,"y":560,"c":0.506,"l":1.3},{"x":947,"y":599,"c":0.54,"l":1.38}]},"mark":{"type":"point","filled":true,"stroke":"#333","strokeWidth":0.8,"opacity":1},"encoding":{"x":{"field":"x","type":"quantitative"},"y":{"field":"y","type":"quantitative"},"size":{"field":"c","type":"quantitative","legend":null,"scale":{"domain":[0.506,0.676],"range":[12,215]}},"color":{"field":"l","type":"quantitative","legend":null,"scale":{"domain":[1.3,1.734],"range":["#f8dcdc","#f27c80"]}}}},
{"data":{"values":[{"t":"NCRNA00092_low","x":145,"y":290},{"t":"LOC150622_low","x":245,"y":377},{"t":"lymph_node_positive","x":290,"y":386},{"t":"LOC284276_low","x":357,"y":357},{"t":"LOC723809-low","x":280,"y":442},{"t":"LOC100131726_high","x":325,"y":462},{"t":"LOC150622_high","x":705,"y":265},{"t":"NCRNA00092_high","x":907,"y":243},{"t":"lymph_node_negative","x":880,"y":375},{"t":"LOC100131726_low","x":1140,"y":348},{"t":"LOC723809-high","x":693,"y":503},{"t":"LOC284276_high","x":923,"y":521}]},"mark":{"type":"text","font":"Liberation Sans","fontSize":6.6,"color":"#666"},"encoding":{"x":{"field":"x","type":"quantitative"},"y":{"field":"y","type":"quantitative"},"text":{"field":"t"}}},
{"data":{"values":[{"t":"Size: confidence (0.506 − 0.676)","x":530,"y":738},{"t":"Color: lift (1.3 − 1.734)","x":530,"y":772},{"t":"Size: confidence (0.653 − 0.769)","x":1132,"y":738},{"t":"Color: lift (1.07 − 1.26)","x":1132,"y":772}]},"mark":{"type":"text","align":"right","font":"Liberation Sans","fontSize":10,"color":"#222"},"encoding":{"x":{"field":"x","type":"quantitative"},"y":{"field":"y","type":"quantitative"},"text":{"field":"t"}}},
{"data":{"values":[{"t":"(D)","x":60,"y":68},{"t":"(E)","x":621,"y":68}]},"mark":{"type":"text","align":"left","font":"Liberation Sans","fontWeight":"bold","fontSize":12,"color":"#111"},"encoding":{"x":{"field":"x","type":"quantitative"},"y":{"field":"y","type":"quantitative"},"text":{"field":"t"}}}
]}
]}
